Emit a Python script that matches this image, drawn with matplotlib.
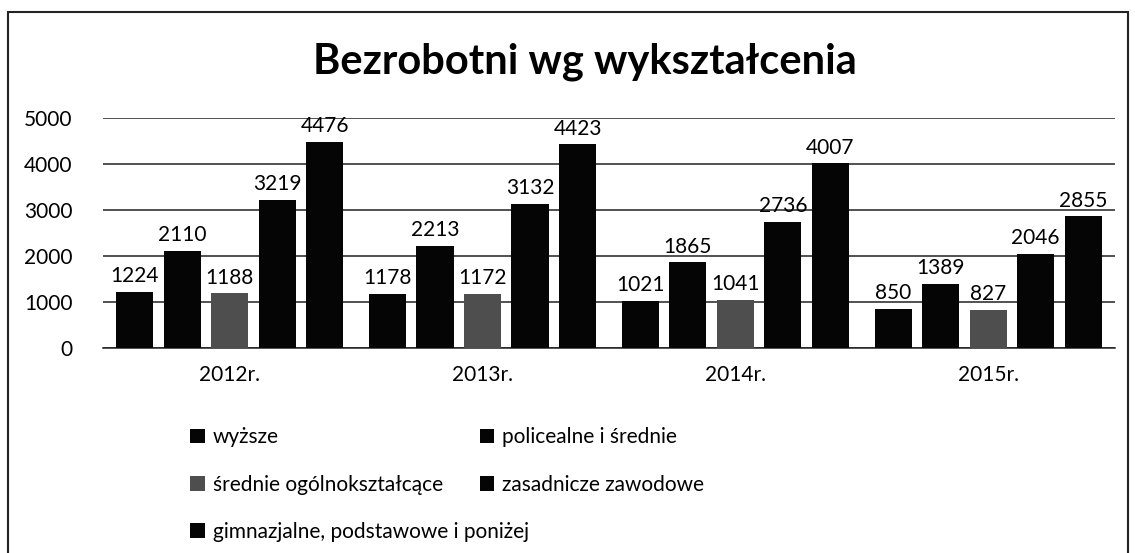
import numpy as np
import matplotlib.pyplot as plt
from matplotlib.patches import Rectangle

plt.rcParams['font.family'] = ['Lato', 'DejaVu Sans']

years = ['2012r.', '2013r.', '2014r.', '2015r.']
series = ['wyższe', 'policealne i średnie', 'średnie ogólnokształcące',
          'zasadnicze zawodowe', 'gimnazjalne, podstawowe i poniżej']
wyzsze = [1224, 1178, 1021, 850]
policealne = [2110, 2213, 1865, 1389]
srednie_ogol = [1188, 1172, 1041, 827]
zasadnicze = [3219, 3132, 2736, 2046]
gimnazjalne = [4476, 4423, 4007, 2855]

data = [wyzsze, policealne, srednie_ogol, zasadnicze, gimnazjalne]
colors = ['#050505', '#050505', '#4e4e4e', '#050505', '#050505']

fig = plt.figure(figsize=(11.35, 5.53), dpi=100)
ax = fig.add_axes([0.091, 0.371, 0.891, 0.416])

x = np.arange(len(years))
step = 0.188
width = 0.147
handles = []
for i, (vals, c) in enumerate(zip(data, colors)):
    pos = x + (i - 2) * step
    b = ax.bar(pos, vals, width, color=c, label=series[i], zorder=3)
    handles.append(b)
    for p, v in zip(pos, vals):
        ax.text(p, v + 120, str(v), ha='center', va='bottom', fontsize=15, zorder=4)

ax.set_xlim(-0.5, 3.5)
ax.set_ylim(0, 5000)
ax.set_yticks([0, 1000, 2000, 3000, 4000, 5000])
ax.set_xticks(x)
ax.set_xticklabels(years)
ax.tick_params(axis='both', length=0, labelsize=15)
ax.tick_params(axis='x', pad=12)
ax.tick_params(axis='y', pad=22)
ax.grid(axis='y', color='#222222', linewidth=1.1, zorder=0)
for s in ['top', 'right', 'left']:
    ax.spines[s].set_visible(False)
ax.spines['bottom'].set_color('#222222')
ax.spines['bottom'].set_linewidth(1.1)

fig.text(0.515, 0.888, 'Bezrobotni wg wykształcenia', ha='center', va='center',
         fontsize=30, fontweight='bold')

# legenda w dwóch kolumnach, rozłożona wierszami jak w oryginale
leg_kw = dict(loc='upper left', frameon=False, fontsize=15, handlelength=0.7,
              handleheight=0.7, handletextpad=0.4, labelspacing=1.3)
col1 = [0, 2, 4]
col2 = [1, 3]
fig.legend([handles[k] for k in col1], [series[k] for k in col1],
           bbox_to_anchor=(0.151, 0.261), **leg_kw)
fig.legend([handles[k] for k in col2], [series[k] for k in col2],
           bbox_to_anchor=(0.406, 0.261), **leg_kw)

fig.add_artist(Rectangle((0.007, -0.02), 0.987, 0.998, transform=fig.transFigure,
                         fill=False, edgecolor='#222222', linewidth=1.5))

fig.savefig('out.png', dpi=100)
